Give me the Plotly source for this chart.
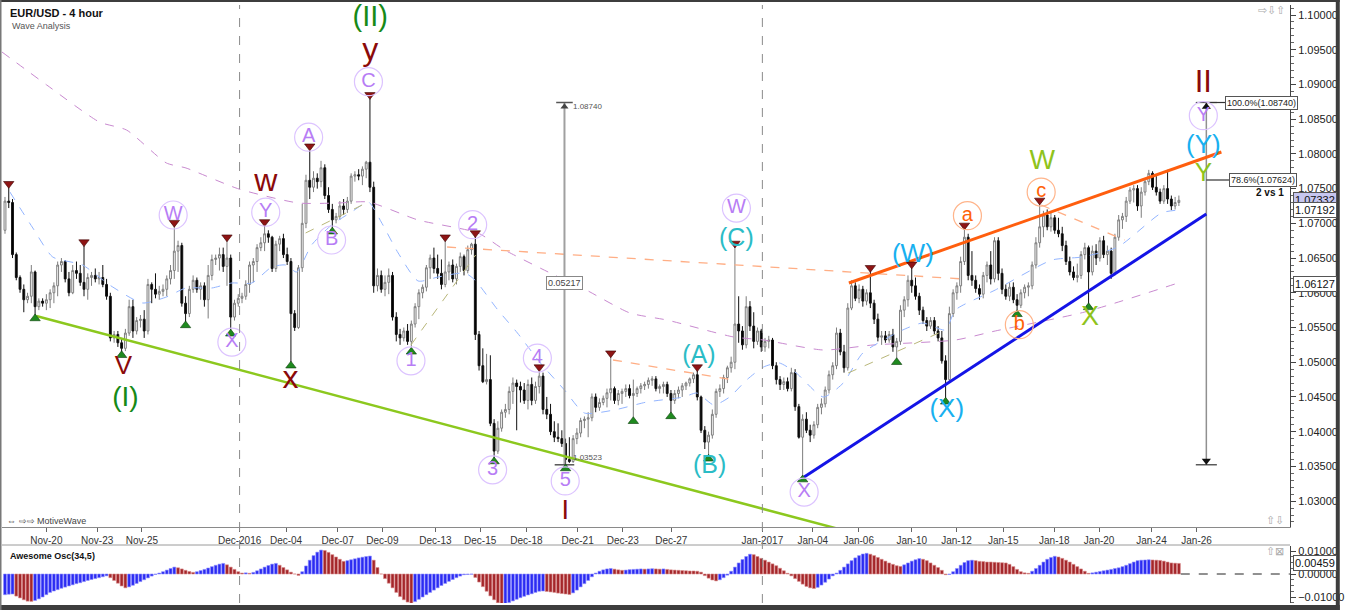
import plotly.graph_objects as go

# ---------------- data ----------------
first_open = 1.0690
close = [
 1.0732, 1.0730, 1.0655, 1.0622, 1.0605, 1.0590, 1.0595, 1.0630, 1.0580, 1.0588,
 1.0585, 1.0590, 1.0600, 1.0610, 1.0640, 1.0645, 1.0620, 1.0600, 1.0632, 1.0628,
 1.0615, 1.0605, 1.0622, 1.0625, 1.0620, 1.0622, 1.0612, 1.0595, 1.0535, 1.0540,
 1.0528, 1.0520, 1.0542, 1.0580, 1.0545, 1.0560, 1.0562, 1.0545, 1.0612, 1.0605,
 1.0598, 1.0602, 1.0605, 1.0620, 1.0632, 1.0660, 1.0668, 1.0585, 1.0570, 1.0605,
 1.0618, 1.0605, 1.0610, 1.0590, 1.0625, 1.0648, 1.0650, 1.0655, 1.0638, 1.0650,
 1.0565, 1.0585, 1.0592, 1.0595, 1.0612, 1.0640, 1.0645, 1.0665, 1.0672, 1.0685,
 1.0680, 1.0635, 1.0670, 1.0678, 1.0655, 1.0645, 1.0570, 1.0550, 1.0636, 1.0700,
 1.0762, 1.0752, 1.0765, 1.0760, 1.0780, 1.0740, 1.0720, 1.0705, 1.0710, 1.0725,
 1.0720, 1.0732, 1.0768, 1.0770, 1.0768, 1.0778, 1.0788, 1.0752, 1.0610, 1.0625,
 1.0605, 1.0615, 1.0625, 1.0565, 1.0540, 1.0535, 1.0545, 1.0530, 1.0555, 1.0580,
 1.0600, 1.0608, 1.0636, 1.0650, 1.0635, 1.0628, 1.0612, 1.0630, 1.0640, 1.0620,
 1.0638, 1.0652, 1.0632, 1.0662, 1.0670, 1.0540, 1.0495, 1.0472, 1.0475, 1.0412,
 1.0372, 1.0405, 1.0428, 1.0432, 1.0458, 1.0470, 1.0465, 1.0460, 1.0445, 1.0468,
 1.0445, 1.0465, 1.0480, 1.0432, 1.0425, 1.0400, 1.0392, 1.0390, 1.0383, 1.0360,
 1.0357, 1.0390, 1.0398, 1.0416, 1.0418, 1.0420, 1.0450, 1.0435, 1.0442, 1.0448,
 1.0456, 1.0462, 1.0445, 1.0455, 1.0458, 1.0462, 1.0452, 1.0455, 1.0462, 1.0466,
 1.0468, 1.0474, 1.0476, 1.0462, 1.0465, 1.0468, 1.0455, 1.0445, 1.0455, 1.0460,
 1.0466, 1.0470, 1.0476, 1.0482, 1.0450, 1.0402, 1.0385, 1.0395, 1.0425, 1.0458,
 1.0462, 1.0478, 1.0492, 1.0500, 1.0555, 1.0545, 1.0525, 1.0580, 1.0552, 1.0530,
 1.0545, 1.0522, 1.0530, 1.0532, 1.0495, 1.0475, 1.0468, 1.0472, 1.0462, 1.0485,
 1.0436, 1.0392, 1.0418, 1.0402, 1.0395, 1.0410, 1.0435, 1.0440, 1.0460, 1.0482,
 1.0495, 1.0542, 1.0515, 1.0492, 1.0578, 1.0610, 1.0592, 1.0605, 1.0588, 1.0600,
 1.0585, 1.0562, 1.0536, 1.0538, 1.0532, 1.0540, 1.0522, 1.0530, 1.0575, 1.0590,
 1.0618, 1.0610, 1.0595, 1.0575, 1.0560, 1.0552, 1.0560, 1.0545, 1.0535, 1.0502,
 1.0475, 1.0570, 1.0600, 1.0610, 1.0645, 1.0680, 1.0625, 1.0618, 1.0606, 1.0598,
 1.0625, 1.0640, 1.0620, 1.0675, 1.0628, 1.0605, 1.0595, 1.0608, 1.0590, 1.0582,
 1.0600, 1.0608, 1.0610, 1.0640, 1.0672, 1.0695, 1.0712, 1.0695, 1.0708, 1.0690,
 1.0685, 1.0668, 1.0645, 1.0630, 1.0622, 1.0625, 1.0655, 1.0665, 1.0630, 1.0660,
 1.0650, 1.0675, 1.0655, 1.0660, 1.0628, 1.0680, 1.0705, 1.0710, 1.0732, 1.0748,
 1.0750, 1.0725, 1.0745, 1.0760, 1.0772, 1.0752, 1.0745, 1.0732, 1.0750, 1.0735,
 1.0725, 1.0730, 1.07332]
high = [
 1.0738, 1.0752, 1.0735, 1.0658, 1.0625, 1.0612, 1.0600, 1.0640, 1.0632, 1.0592,
 1.0592, 1.0598, 1.0605, 1.0615, 1.0645, 1.0650, 1.0647, 1.0630, 1.0640, 1.0645,
 1.0640, 1.0668, 1.0628, 1.0630, 1.0635, 1.0630, 1.0640, 1.0620, 1.0600, 1.0545,
 1.0545, 1.0535, 1.0548, 1.0590, 1.0590, 1.0565, 1.0568, 1.0575, 1.0620, 1.0615,
 1.0628, 1.0610, 1.0612, 1.0625, 1.0640, 1.0696, 1.0675, 1.0672, 1.0595, 1.0610,
 1.0625, 1.0622, 1.0615, 1.0615, 1.0640, 1.0655, 1.0655, 1.0665, 1.0665, 1.0675,
 1.0655, 1.0590, 1.0598, 1.0600, 1.0618, 1.0645, 1.0650, 1.0670, 1.0680, 1.0697,
 1.0690, 1.0682, 1.0675, 1.0682, 1.0685, 1.0665, 1.0650, 1.0575, 1.0640, 1.0728,
 1.0770, 1.0806, 1.0775, 1.0772, 1.0790, 1.0785, 1.0752, 1.0728, 1.0715, 1.0732,
 1.0735, 1.0738, 1.0772, 1.0775, 1.0778, 1.0782, 1.0790, 1.0880, 1.0760, 1.0635,
 1.0632, 1.0625, 1.0635, 1.0630, 1.0572, 1.0548, 1.0550, 1.0555, 1.0560, 1.0585,
 1.0605, 1.0612, 1.0640, 1.0655, 1.0665, 1.0655, 1.0648, 1.0675, 1.0645, 1.0648,
 1.0642, 1.0658, 1.0655, 1.0668, 1.0672, 1.0681, 1.0545, 1.0520, 1.0512, 1.0510,
 1.0418, 1.0415, 1.0432, 1.0440, 1.0465, 1.0478, 1.0475, 1.0472, 1.0470, 1.0475,
 1.0478, 1.0472, 1.0488, 1.0485, 1.0450, 1.0440, 1.0415, 1.0412, 1.0402, 1.0390,
 1.0392, 1.0395, 1.0405, 1.0420, 1.0422, 1.0428, 1.0455, 1.0455, 1.0448, 1.0452,
 1.0462, 1.0508, 1.0465, 1.0460, 1.0462, 1.0468, 1.0468, 1.0475, 1.0465, 1.0470,
 1.0472, 1.0478, 1.0480, 1.0480, 1.0468, 1.0472, 1.0472, 1.0460, 1.0460, 1.0465,
 1.0470, 1.0472, 1.0478, 1.0485, 1.0488, 1.0452, 1.0408, 1.0400, 1.0432, 1.0462,
 1.0468, 1.0482, 1.0495, 1.0508, 1.0666, 1.0595, 1.0552, 1.0595, 1.0588, 1.0572,
 1.0550, 1.0548, 1.0535, 1.0538, 1.0535, 1.0500, 1.0480, 1.0478, 1.0478, 1.0492,
 1.0490, 1.0440, 1.0425, 1.0428, 1.0410, 1.0415, 1.0440, 1.0448, 1.0465, 1.0488,
 1.0500, 1.0550, 1.0548, 1.0525, 1.0585, 1.0618, 1.0615, 1.0612, 1.0610, 1.0605,
 1.0631, 1.0590, 1.0570, 1.0545, 1.0545, 1.0545, 1.0548, 1.0535, 1.0582, 1.0595,
 1.0625, 1.0636, 1.0622, 1.0600, 1.0580, 1.0565, 1.0565, 1.0565, 1.0552, 1.0545,
 1.0510, 1.0580, 1.0605, 1.0615, 1.0652, 1.0692, 1.0685, 1.0660, 1.0625, 1.0612,
 1.0630, 1.0645, 1.0660, 1.0680, 1.0680, 1.0635, 1.0612, 1.0615, 1.0615, 1.0598,
 1.0605, 1.0612, 1.0615, 1.0645, 1.0680, 1.0728, 1.0718, 1.0720, 1.0715, 1.0712,
 1.0708, 1.0695, 1.0675, 1.0652, 1.0638, 1.0642, 1.0660, 1.0672, 1.0668, 1.0668,
 1.0670, 1.0680, 1.0682, 1.0668, 1.0665, 1.0685, 1.0712, 1.0715, 1.0738, 1.0752,
 1.0755, 1.0755, 1.0752, 1.0765, 1.0777, 1.0775, 1.0768, 1.0750, 1.0755, 1.0777,
 1.0740, 1.0738, 1.0740]
low = [
 1.0685, 1.0722, 1.0650, 1.0618, 1.0600, 1.0572, 1.0585, 1.0585, 1.0568, 1.0575,
 1.0580, 1.0575, 1.0578, 1.0585, 1.0595, 1.0630, 1.0615, 1.0595, 1.0598, 1.0620,
 1.0610, 1.0595, 1.0590, 1.0610, 1.0615, 1.0612, 1.0608, 1.0590, 1.0530, 1.0528,
 1.0522, 1.0515, 1.0516, 1.0538, 1.0535, 1.0540, 1.0550, 1.0535, 1.0540, 1.0585,
 1.0592, 1.0590, 1.0595, 1.0595, 1.0612, 1.0620, 1.0630, 1.0580, 1.0558, 1.0565,
 1.0600, 1.0600, 1.0590, 1.0580, 1.0563, 1.0618, 1.0640, 1.0632, 1.0630, 1.0610,
 1.0546, 1.0560, 1.0580, 1.0585, 1.0590, 1.0600, 1.0615, 1.0630, 1.0660, 1.0660,
 1.0672, 1.0630, 1.0630, 1.0660, 1.0650, 1.0640, 1.0500, 1.0545, 1.0548, 1.0630,
 1.0693, 1.0735, 1.0745, 1.0750, 1.0752, 1.0735, 1.0715, 1.0693, 1.0700, 1.0705,
 1.0712, 1.0715, 1.0728, 1.0760, 1.0762, 1.0755, 1.0765, 1.0745, 1.0600, 1.0602,
 1.0600, 1.0595, 1.0598, 1.0560, 1.0530, 1.0525, 1.0530, 1.0525, 1.0520, 1.0550,
 1.0562, 1.0592, 1.0602, 1.0620, 1.0628, 1.0620, 1.0605, 1.0608, 1.0618, 1.0615,
 1.0612, 1.0630, 1.0625, 1.0628, 1.0655, 1.0532, 1.0488, 1.0470, 1.0468, 1.0408,
 1.0362, 1.0368, 1.0400, 1.0420, 1.0425, 1.0440, 1.0402, 1.0442, 1.0440, 1.0432,
 1.0438, 1.0440, 1.0455, 1.0425, 1.0418, 1.0395, 1.0385, 1.0385, 1.0378, 1.0352,
 1.0355, 1.0355, 1.0382, 1.0392, 1.0405, 1.0392, 1.0415, 1.0428, 1.0430, 1.0438,
 1.0435, 1.0445, 1.0440, 1.0438, 1.0440, 1.0450, 1.0448, 1.0420, 1.0450, 1.0455,
 1.0460, 1.0462, 1.0466, 1.0458, 1.0455, 1.0455, 1.0450, 1.0427, 1.0440, 1.0448,
 1.0450, 1.0460, 1.0465, 1.0470, 1.0445, 1.0398, 1.0375, 1.0366, 1.0390, 1.0420,
 1.0450, 1.0455, 1.0470, 1.0485, 1.0490, 1.0528, 1.0518, 1.0520, 1.0545, 1.0520,
 1.0525, 1.0515, 1.0515, 1.0520, 1.0490, 1.0468, 1.0460, 1.0460, 1.0458, 1.0458,
 1.0430, 1.0390, 1.0336, 1.0398, 1.0385, 1.0390, 1.0405, 1.0425, 1.0435, 1.0455,
 1.0475, 1.0490, 1.0510, 1.0485, 1.0488, 1.0575, 1.0588, 1.0585, 1.0580, 1.0582,
 1.0578, 1.0555, 1.0530, 1.0525, 1.0528, 1.0528, 1.0515, 1.0505, 1.0525, 1.0565,
 1.0580, 1.0600, 1.0590, 1.0568, 1.0555, 1.0545, 1.0548, 1.0540, 1.0530, 1.0498,
 1.0448, 1.0470, 1.0565, 1.0590, 1.0600, 1.0640, 1.0618, 1.0610, 1.0600, 1.0590,
 1.0592, 1.0615, 1.0612, 1.0615, 1.0618, 1.0598, 1.0590, 1.0588, 1.0585, 1.0574,
 1.0578, 1.0592, 1.0595, 1.0605, 1.0635, 1.0665, 1.0680, 1.0690, 1.0688, 1.0685,
 1.0680, 1.0660, 1.0640, 1.0625, 1.0618, 1.0615, 1.0620, 1.0648, 1.0584, 1.0625,
 1.0640, 1.0645, 1.0650, 1.0640, 1.0620, 1.0625, 1.0675, 1.0692, 1.0702, 1.0728,
 1.0730, 1.0718, 1.0708, 1.0740, 1.0755, 1.0748, 1.0740, 1.0728, 1.0728, 1.0728,
 1.0719, 1.0720, 1.0725]

# Awesome Oscillator (34,5), in units of 0.0001
ao_e4 = [
 -90, -88, -87, -96, -104, -112, -118, -119, -115, -108,
 -100, -90, -80, -74, -68, -62, -57, -52, -47, -42,
 -38, -33, -28, -24, -20, -16, -12, -8, -16, -28,
 -40, -52, -60, -56, -49, -41, -33, -25, -17, -9,
 -2, 4, 10, 17, 24, 30, 27, 22, 16, 11,
 7, 10, 15, 20, 26, 32, 38, 43, 46, 40,
 30, 20, 10, 4, 5, 3, 7, 14, 22, 30,
 37, 43, 46, 38, 28, 18, 8, 0, -6, 10,
 35, 60, 80, 95, 104, 102, 94, 84, 74, 64,
 55, 58, 62, 66, 70, 73, 76, 78, 60, 28,
 0, -20, -40, -60, -80, -98, -112, -122, -127, -120,
 -110, -100, -90, -80, -70, -60, -50, -41, -32, -24,
 -16, -9, -3, -2, -1, -15, -35, -55, -75, -95,
 -112, -125, -134, -130, -124, -117, -110, -103, -97, -91,
 -86, -80, -75, -74, -76, -78, -80, -83, -85, -87,
 -89, -82, -70, -56, -42, -28, -12, 4, 12, 18,
 22, 24, 21, 18, 16, 17, 19, 20, 21, 22,
 21, 22, 23, 22, 21, 22, 20, 18, 17, 16,
 15, 14, 13, 13, 12, 8, -7, -18, -26, -30,
 -25, -16, -5, 12, 30, 48, 63, 76, 86, 84,
 76, 68, 60, 52, 44, 36, 25, 14, 3, -8,
 -20, -32, -44, -54, -60, -63, -58, -48, -36, -22,
 -8, 4, 16, 30, 44, 58, 70, 80, 87, 90,
 86, 80, 72, 64, 56, 48, 42, 36, 33, 40,
 48, 56, 62, 67, 64, 58, 48, 38, 28, 16,
 -3, -2, 10, 24, 38, 50, 58, 60, 58, 55,
 54, 52, 52, 51, 50, 49, 48, 42, 32, 20,
 10, 5, 3, 12, 24, 38, 52, 64, 72, 77,
 74, 68, 60, 52, 42, 32, 22, 12, 3, 5,
 8, 11, 14, 17, 20, 24, 27, 32, 38, 45,
 52, 58, 60, 61, 62, 61, 60, 59, 56, 52,
 48, 47, 46]
ao_last = 0.00459

# time axis (bar index positions of the date labels)
tick_pos = [11.0, 24.5, 36.4, 62.35, 74.7, 88.4, 100.3, 114.4, 126.3, 138.6, 152.2, 164.2,
            177.1, 201.3, 214.7, 226.9, 241.0, 252.9, 265.3, 278.9, 290.8, 304.7, 316.7]
tick_text = ["Nov-20", "Nov-23", "Nov-25", "Dec-2016", "Dec-04", "Dec-07", "Dec-09", "Dec-13",
             "Dec-15", "Dec-18", "Dec-21", "Dec-23", "Dec-27", "Jan-2017", "Jan-04", "Jan-06",
             "Jan-10", "Jan-12", "Jan-15", "Jan-18", "Jan-20", "Jan-24", "Jan-26"]
month_starts = [62.35, 201.3]

# moving averages (read at points along the dashed curves)
fast_ma_x = [1.3, 7.4, 12.7, 20.6, 27.8, 36.5, 42.9, 48.1, 55.0, 60.3, 65.6, 70.9, 74.6, 77.5,
             81.5, 86.8, 92.1, 96.6, 100.0, 104.5, 109.8, 115.1, 122.2, 124.9, 131.0, 136.2,
             142.3, 148.7, 154.0, 161.9, 170.6, 180.4, 183.9, 188.4, 192.6, 197.1, 201.6, 205.8,
             210.3, 217.5, 222.8, 228.0, 238.6, 243.9, 250.0, 252.6, 263.2, 278.3, 286.2, 295.8,
             307.4, 312.0]
fast_ma_y = [1.07451, 1.06933, 1.06515, 1.06400, 1.06112, 1.05853, 1.05939, 1.06069, 1.06069,
             1.06141, 1.06141, 1.06371, 1.06400, 1.06299, 1.06688, 1.06976, 1.07163, 1.07307,
             1.07019, 1.06573, 1.06170, 1.06227, 1.06285, 1.06184, 1.05752, 1.05421, 1.04989,
             1.04600, 1.04269, 1.04312, 1.04427, 1.04499, 1.04557, 1.04384, 1.04499, 1.04744,
             1.04931, 1.04989, 1.04845, 1.04499, 1.04701, 1.05133, 1.05464, 1.05565, 1.05464,
             1.05752, 1.06040, 1.06472, 1.06515, 1.06659, 1.07150, 1.07192]
slow_ma_x = [-0.8, 11.1, 25.1, 32.3, 42.9, 48.1, 62.2, 78.0, 88.6, 96.6, 109.8, 125.7, 132.8,
             146.0, 154.0, 166.1, 175.9, 193.7, 201.6, 217.5, 230.7, 252.6, 263.2, 287.0, 311.0]
slow_ma_y = [1.09467, 1.08992, 1.08459, 1.08344, 1.07869, 1.07797, 1.07494, 1.07293, 1.07293,
             1.07307, 1.07048, 1.06861, 1.06616, 1.06256, 1.06054, 1.05709, 1.05608, 1.05363,
             1.05320, 1.05176, 1.05248, 1.05320, 1.05450, 1.05723, 1.06127]

# swing pivots marked by triangles (bar indices)
swing_highs = [1, 21, 45, 59, 69, 81, 97, 117, 125, 142, 161, 184, 194, 230, 241, 255, 275]
swing_lows = [8, 31, 48, 60, 76, 87, 108, 130, 149, 167, 177, 187, 212, 237, 250, 269, 288]

# measured move / fibonacci
fib_top = 1.08740
fib_bottom = 1.03523
fib_786 = 1.07624

# ---------------- geometry helpers ----------------
W, H = 1346, 610
ML, MR, MT, MB = 2, 50, 5, 7
PW, PH = W - ML - MR, H - MT - MB
BAR0_PX, BAR_PX = 5.0, 3.78


def pxx(px):
    return (px - ML) / PW


def pyy(py):
    return 1 - (py - MT) / PH


def bar_at(px):
    return (px - BAR0_PX) / BAR_PX


N = len(close)
xs = list(range(N))
opens = [first_open] + close[:-1]

fig = go.Figure()

# moving averages (behind candles)
fig.add_trace(go.Scatter(x=slow_ma_x, y=slow_ma_y, mode="lines", hoverinfo="skip",
                         line=dict(color="#c98ad0", width=1, dash="dash", shape="spline", smoothing=0.6)))
fig.add_trace(go.Scatter(x=fast_ma_x, y=fast_ma_y, mode="lines", hoverinfo="skip",
                         line=dict(color="#93b5ff", width=1, dash="dash", shape="spline", smoothing=0.6)))

# dashed helper lines
orange_dashed = [((117.5, 1.06659), (254.8, 1.06198)), ((161.6, 1.05032), (193.7, 1.04744)),
                 ((275.4, 1.07264), (297.6, 1.06760))]
olive_dashed = [((79.9, 1.06861), (97.1, 1.07322)), ((107.9, 1.05248), (125.1, 1.06544)),
                ((224.1, 1.04845), (250.0, 1.05464))]
for (a, b) in orange_dashed:
    fig.add_trace(go.Scatter(x=[a[0], b[0]], y=[a[1], b[1]], mode="lines", hoverinfo="skip",
                             line=dict(color="#ffae85", width=1.3, dash="dash")))
for (a, b) in olive_dashed:
    fig.add_trace(go.Scatter(x=[a[0], b[0]], y=[a[1], b[1]], mode="lines", hoverinfo="skip",
                             line=dict(color="#b9b77a", width=1, dash="dash")))

# measurement line 1 (gray)
m1 = 148.7
fig.add_trace(go.Scatter(x=[m1, m1], y=[fib_top, fib_bottom], mode="lines", hoverinfo="skip",
                         line=dict(color="#a0a0a0", width=2)))
fig.add_trace(go.Scatter(x=[m1 - 2.2, m1 + 2.2, None, m1 - 2.6, m1 + 2.6],
                         y=[fib_top, fib_top, None, fib_bottom, fib_bottom], mode="lines",
                         hoverinfo="skip", line=dict(color="#555555", width=1.5)))
fig.add_trace(go.Scatter(x=[m1], y=[fib_top - 0.0006], mode="markers", hoverinfo="skip",
                         marker=dict(symbol="triangle-up", size=7, color="#444444")))

# measurement line 2 (projection)
m2 = 319.3
fig.add_trace(go.Scatter(x=[m2, m2], y=[fib_top, fib_bottom], mode="lines", hoverinfo="skip",
                         line=dict(color="#909090", width=1.5)))
fig.add_trace(go.Scatter(x=[m2 - 2.8, m2 + 2.8, None, m2 - 2.8, m2 + 2.8, None, m2, 324.3, None, m2, 325.4],
                         y=[fib_top, fib_top, None, fib_bottom, fib_bottom, None, fib_top, fib_top, None,
                            fib_786, fib_786],
                         mode="lines", hoverinfo="skip", line=dict(color="#333333", width=1.2)))
fig.add_trace(go.Scatter(x=[m2, m2], y=[fib_top - 0.0006, fib_bottom + 0.0006], mode="markers",
                         hoverinfo="skip",
                         marker=dict(symbol=["triangle-up", "triangle-down"], size=8, color="#111111")))

# candles
fig.add_trace(go.Candlestick(
    x=xs, open=opens, high=high, low=low, close=close, hoverinfo="skip", whiskerwidth=0,
    increasing=dict(line=dict(color="#7d7d7d", width=1), fillcolor="#ffffff"),
    decreasing=dict(line=dict(color="#111111", width=1), fillcolor="#000000")))

# trend lines
fig.add_trace(go.Scatter(x=[8.3, 221.0], y=[1.05666, 1.02607], mode="lines", hoverinfo="skip",
                         line=dict(color="#8cc81e", width=2.5)))
fig.add_trace(go.Scatter(x=[224.3, 323.3], y=[1.06141, 1.08027], mode="lines", hoverinfo="skip",
                         line=dict(color="#ff5e0e", width=3)))
fig.add_trace(go.Scatter(x=[212.4, 319.3], y=[1.03347, 1.07134], mode="lines", hoverinfo="skip",
                         line=dict(color="#1414e6", width=3)))

# pivot triangles
fig.add_trace(go.Scatter(x=swing_highs, y=[high[i] + 0.0005 for i in swing_highs], mode="markers",
                         hoverinfo="skip",
                         marker=dict(symbol="triangle-down", size=9, color="#8e1515",
                                     line=dict(color="#3a0000", width=0.6))))
fig.add_trace(go.Scatter(x=swing_lows, y=[low[i] - 0.0005 for i in swing_lows], mode="markers",
                         hoverinfo="skip",
                         marker=dict(symbol="triangle-up", size=9, color="#1f8a1f",
                                     line=dict(color="#0b3d0b", width=0.6))))

# circled wave labels
purple_circle = [("W", 44.7, 1.0712), ("X", 60.3, 1.0529), ("Y", 69.3, 1.0716), ("A", 80.7, 1.0824),
                 ("B", 86.8, 1.0676), ("C", 96.6, 1.0904), ("1", 107.9, 1.0502), ("2", 124.3, 1.0698),
                 ("3", 129.6, 1.0345), ("4", 141.5, 1.0506), ("5", 148.9, 1.0329),
                 ("W", 194.4, 1.0722), ("X", 212.4, 1.0313), ("Y", 318.5, 1.0855)]
orange_circle = [("a", 255.8, 1.0711), ("b", 269.6, 1.0554), ("c", 275.4, 1.0745)]
for group, tcol, ccol in [(purple_circle, "#b77df5", "#dcc3ff"), (orange_circle, "#ff6208", "#ffb48a")]:
    fig.add_trace(go.Scatter(x=[g[1] for g in group], y=[g[2] for g in group], mode="markers+text",
                             text=[g[0] for g in group], textposition="middle center",
                             hoverinfo="skip", cliponaxis=False,
                             textfont=dict(size=20, color=tcol, family="Liberation Sans, Arial"),
                             marker=dict(symbol="circle-open", size=28, color=ccol,
                                         line=dict(color=ccol, width=1.2))))

plain_labels = [
    ("(II)", 97.1, 1.0994, "#178a17", 29), ("y", 97.1, 1.0947, "#8b0a0a", 32),
    ("w", 69.3, 1.0758, "#8b0a0a", 32), ("V", 31.5, 1.0493, "#8b0a0a", 26),
    ("(I)", 32.0, 1.0447, "#178a17", 28), ("x", 75.9, 1.0474, "#8b0a0a", 32),
    ("I", 148.9, 1.0284, "#8b0a0a", 27),
    ("(A)", 184.4, 1.0508, "#2bbcc6", 25), ("(B)", 187.3, 1.0349, "#2bbcc6", 25),
    ("(C)", 194.4, 1.0677, "#2bbcc6", 25),
    ("(W)", 241.3, 1.0654, "#18b0f0", 26), ("(X)", 250.3, 1.0431, "#18b0f0", 26),
    ("(Y)", 318.5, 1.0810, "#18b0f0", 26),
    ("W", 275.7, 1.0788, "#8fc31c", 27), ("X", 288.4, 1.0564, "#8fc31c", 27),
    ("Y", 318.5, 1.0770, "#8fc31c", 26),
    ("II", 318.5, 1.0901, "#8b0a0a", 31),
]
for t, bx, by, col, sz in plain_labels:
    fig.add_trace(go.Scatter(x=[bx], y=[by], mode="text", text=[t], textposition="middle center",
                             hoverinfo="skip", cliponaxis=False,
                             textfont=dict(size=sz, color=col, family="Liberation Sans, Arial")))

# Awesome oscillator histogram
ao_vals = [v / 10000.0 for v in ao_e4]
ao_fill, ao_edge = [], []
for i, v in enumerate(ao_e4):
    up = (i == 0) or (v > ao_e4[i - 1])
    ao_fill.append("#2b2bf2" if up else "#a4262a")
    ao_edge.append("#8e8eff" if up else "#d88a8a")
fig.add_trace(go.Bar(x=xs, y=ao_vals, xaxis="x2", yaxis="y2", width=0.78, hoverinfo="skip",
                     marker=dict(color=ao_fill, line=dict(color=ao_edge, width=0.6))))
fig.add_trace(go.Scatter(x=[N - 0.5, 341.5], y=[0, 0], xaxis="x2", yaxis="y2", mode="lines",
                         hoverinfo="skip", line=dict(color="#222222", width=1, dash="dash")))

# ---------------- layout ----------------
shapes = []
for ms in month_starts:
    shapes.append(dict(type="line", xref="x", yref="paper", x0=ms, x1=ms, y0=0, y1=1,
                       line=dict(color="#8a8a8a", width=1, dash="dash")))
shapes += [
    dict(type="line", xref="paper", yref="paper", x0=0, x1=1, y0=pyy(545), y1=pyy(545),
         line=dict(color="#9a9a9a", width=1)),
    dict(type="rect", xref="paper", yref="paper", x0=pxx(0), x1=pxx(W), y0=pyy(0), y1=pyy(2),
         line=dict(width=0), fillcolor="#3d3d3d"),
    dict(type="rect", xref="paper", yref="paper", x0=pxx(0), x1=pxx(W), y0=pyy(605), y1=pyy(H),
         line=dict(width=0), fillcolor="#3d3d3d"),
    dict(type="rect", xref="paper", yref="paper", x0=pxx(1342), x1=pxx(W), y0=pyy(H), y1=pyy(0),
         line=dict(width=0), fillcolor="#3d3d3d"),
    dict(type="rect", xref="paper", yref="paper", x0=pxx(0), x1=pxx(1.5), y0=pyy(H), y1=pyy(0),
         line=dict(width=0), fillcolor="#777777"),
]

ann = []


def add_text(text, x, y, xref="paper", yref="paper", size=10, color="#222", xanchor="left",
             yanchor="middle", box=None, bg=None, yshift=0, xshift=0):
    d = dict(text=text, x=x, y=y, xref=xref, yref=yref, showarrow=False, xanchor=xanchor,
             yanchor=yanchor, font=dict(size=size, color=color, family="Liberation Sans, Arial"),
             yshift=yshift, xshift=xshift)
    if box:
        d.update(bordercolor=box, borderwidth=1, borderpad=1, bgcolor=bg or "#ffffff")
    ann.append(d)


add_text("<b>EUR/USD - 4 hour</b>", pxx(8), pyy(13), size=11, color="#111")
add_text("Wave Analysis", pxx(10), pyy(26), size=9, color="#555")
add_text("⇔ ⇨⇨ MotiveWave", pxx(5), pyy(521), size=9, color="#444")
add_text("<b>Awesome Osc(34,5)</b>", pxx(8), pyy(556), size=9, color="#111")
add_text("⇨⇩⇧", pxx(1293), pyy(10), size=11, color="#aaaaaa", xanchor="right")
add_text("⇧⇩", pxx(1292), pyy(520), size=11, color="#aaaaaa", xanchor="right")
add_text("⇧⊠", pxx(1292), pyy(551), size=11, color="#aaaaaa", xanchor="right")

# measurement labels
add_text(f"{fib_top:.5f}", bar_at(574), fib_top, xref="x", yref="y", size=8, color="#555",
         yshift=-4)
add_text(f"{fib_top - fib_bottom:.5f}", m1, 1.06141, xref="x", yref="y", size=9, color="#444",
         xanchor="center", box="#888888")
add_text(f"{fib_bottom:.5f}", bar_at(574), fib_bottom, xref="x", yref="y", size=8, color="#555",
         yshift=7)
add_text(f"100.0%({fib_top:.5f})", 324.3, fib_top, xref="x", yref="y", size=9, color="#222",
         box="#555555")
add_text(f"78.6%({fib_786:.5f})", 325.4, fib_786, xref="x", yref="y", size=9, color="#222",
         box="#555555")
add_text("<b>2 vs 1</b>", pxx(1292), 1.07437, yref="y", size=10, color="#111", xanchor="right")

# price tags on the right axis
add_text(f"{close[-1]:.5f}", 1.0, close[-1], yref="y", size=11, color="#111", box="#555555",
         bg="#c6c6ef", xshift=3)
add_text(f"{fast_ma_y[-1]:.5f}", 1.0, fast_ma_y[-1], yref="y", size=11, color="#111",
         box="#555555", xshift=3)
add_text(f"{slow_ma_y[-1]:.5f}", 1.0, slow_ma_y[-1], yref="y", size=11, color="#111",
         box="#555555", xshift=3)
add_text(f"{ao_last:.5f}", 1.0, ao_last, yref="y2", size=11, color="#111", box="#555555",
         xshift=3)

fig.update_layout(
    width=W, height=H, margin=dict(l=ML, r=MR, t=MT, b=MB),
    paper_bgcolor="white", plot_bgcolor="white", showlegend=False,
    font=dict(family="Liberation Sans, Arial, sans-serif", color="#222"),
    shapes=shapes, annotations=ann, bargap=0,
    xaxis=dict(domain=[0, 1], range=[bar_at(ML), bar_at(ML + PW)], anchor="y",
               tickvals=tick_pos, ticktext=tick_text, ticks="outside", ticklen=4,
               tickcolor="#666", showline=True, linecolor="#8a8a8a", linewidth=1,
               showgrid=False, zeroline=False, tickfont=dict(size=10, color="#333"),
               rangeslider=dict(visible=False)),
    yaxis=dict(domain=[pyy(527), 1], range=[1.10 - (527 - 15) * 0.000144, 1.10 + 10 * 0.000144],
               side="right", anchor="x", dtick=0.005, tick0=1.0, tickformat=".5f",
               ticks="outside", ticklen=5, tickcolor="#444", showline=True, linecolor="#444",
               showgrid=False, zeroline=False, tickfont=dict(size=11, color="#222"),
               minor=dict(dtick=0.001, ticks="outside", ticklen=3, tickcolor="#666")),
    xaxis2=dict(domain=[0, 1], matches="x", anchor="y2", showticklabels=False, showline=False,
                showgrid=False, zeroline=False, ticks=""),
    yaxis2=dict(domain=[0, pyy(546)], range=[-0.01 - 6 * 0.000435, 0.01 + 5 * 0.000435],
                side="right", anchor="x2", tickvals=[0.01, 0, -0.01], tickformat=".5f",
                ticks="outside", ticklen=5, tickcolor="#444", showline=True, linecolor="#444",
                showgrid=False, zeroline=False, tickfont=dict(size=11, color="#222"),
                minor=dict(dtick=0.0025, ticks="outside", ticklen=3, tickcolor="#666")),
)

fig.write_html("out.html", config={"displayModeBar": False, "staticPlot": True},
               post_script="document.body.style.margin='0px';document.body.style.overflow='hidden';")
